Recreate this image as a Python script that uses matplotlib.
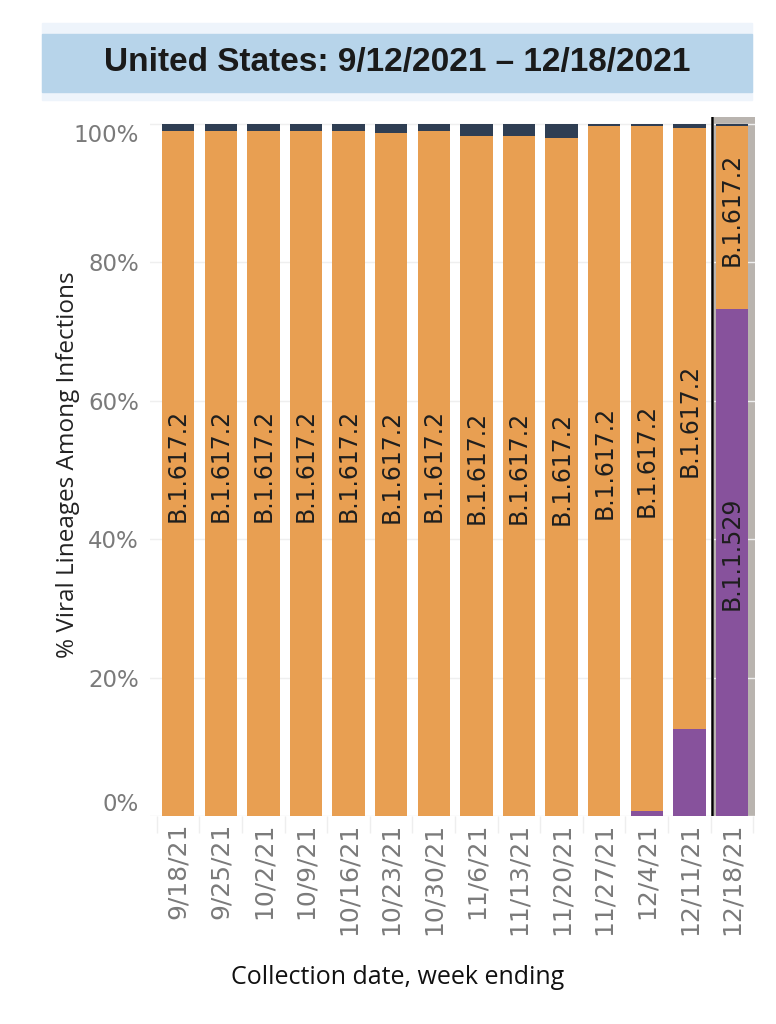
import numpy as np
import matplotlib
matplotlib.use("Agg")
import matplotlib.pyplot as plt
from matplotlib.patches import Rectangle

weeks = ['9/18/21', '9/25/21', '10/2/21', '10/9/21', '10/16/21', '10/23/21',
         '10/30/21', '11/6/21', '11/13/21', '11/20/21', '11/27/21', '12/4/21',
         '12/11/21', '12/18/21']
omicron = [0, 0, 0, 0, 0, 0, 0, 0, 0, 0, 0, 0.7, 12.6, 73.2]
other = [1.0, 1.0, 1.0, 1.0, 1.0, 1.3, 1.0, 1.7, 1.7, 2.1, 0.35, 0.35, 0.55, 0.35]
delta = [100 - o - t for o, t in zip(omicron, other)]
yticks = [0, 20, 40, 60, 80, 100]

c_delta = '#E89F52'
c_omi = '#87529C'
c_other = '#2F3E53'
tick_grey = '#7A7A7A'

fig = plt.figure(figsize=(7.76, 10.24), dpi=100)

# title band
fig.patches.append(Rectangle((42 / 776, 1 - 100 / 1024), 710 / 776, 77 / 1024,
                             transform=fig.transFigure, color='#EEF4FB', zorder=0))
fig.patches.append(Rectangle((42 / 776, 1 - 92 / 1024), 710 / 776, 58 / 1024,
                             transform=fig.transFigure, color='#B7D4EA', zorder=1))
fig.text(397 / 776, 1 - 63 / 1024, 'United States: 9/12/2021 \u2013 12/18/2021',
         ha='center', va='center', fontsize=24, fontweight='bold', color='#1a1a1a',
         family=['Liberation Sans Narrow', 'Liberation Sans', 'DejaVu Sans'])

ax = fig.add_axes([150 / 776, 1 - 816 / 1024, 605 / 776, 699 / 1024])
x = np.arange(len(weeks))
w = 0.76

# highlight of the last week
ax.add_patch(Rectangle((12.58, 0), 0.95, 101, color='#B9B4AF', zorder=0.5, lw=0))
ax.plot([12.52, 12.52], [0, 101], color='black', lw=1.8, zorder=3)

ax.bar(x, omicron, width=w, color=c_omi, zorder=2)
ax.bar(x, delta, width=w, bottom=omicron, color=c_delta, zorder=2)
ax.bar(x, other, width=w, bottom=[o + d for o, d in zip(omicron, delta)],
       color=c_other, zorder=2)

lab_font = dict(fontsize=17, color='#1E1E1E', rotation=90, ha='center', va='center',
                family='DejaVu Sans')
for i in range(len(weeks)):
    ax.text(x[i], omicron[i] + delta[i] / 2 + 1.2, 'B.1.617.2', **lab_font)
    if omicron[i] > 20:
        ax.text(x[i], omicron[i] / 2 + 1.4, 'B.1.1.529', **lab_font)

ax.set_xlim(-0.66, 13.54)
ax.set_ylim(0, 101)
ax.set_yticks(yticks)
ax.set_yticklabels([f'{v}%' for v in yticks])
for t in ax.get_yticklabels():
    t.set_fontsize(16.5)
    t.set_color(tick_grey)
    t.set_family('DejaVu Sans')
ax.get_yticklabels()[-1].set_va('top')
ax.get_yticklabels()[0].set_va('bottom')
ax.tick_params(axis='y', length=0, pad=8)
ax.grid(axis='y', color='#EFEFEF', lw=1, zorder=0)

ax.set_xticks(x)
ax.set_xticklabels(weeks, rotation=90, fontsize=18, color=tick_grey,
                   family='DejaVu Sans')
ax.set_xticks(np.arange(-0.5, 13.6, 1), minor=True)
ax.tick_params(axis='x', which='major', length=0, pad=5)
ax.tick_params(axis='x', which='minor', length=12, color='#EEEEEE', width=1)

for s in ax.spines.values():
    s.set_visible(False)

fig.text(68 / 776, 1 - 465 / 1024, '% Viral Lineages Among Infections', rotation=90,
         ha='center', va='center', fontsize=17.5, color='#222222',
         family=['Open Sans', 'DejaVu Sans'])
fig.text(398 / 776, 1 - 977 / 1024, 'Collection date, week ending', ha='center',
         va='center', fontsize=18, color='#111111', family=['Open Sans', 'DejaVu Sans'])

fig.savefig('out.png', dpi=100)
